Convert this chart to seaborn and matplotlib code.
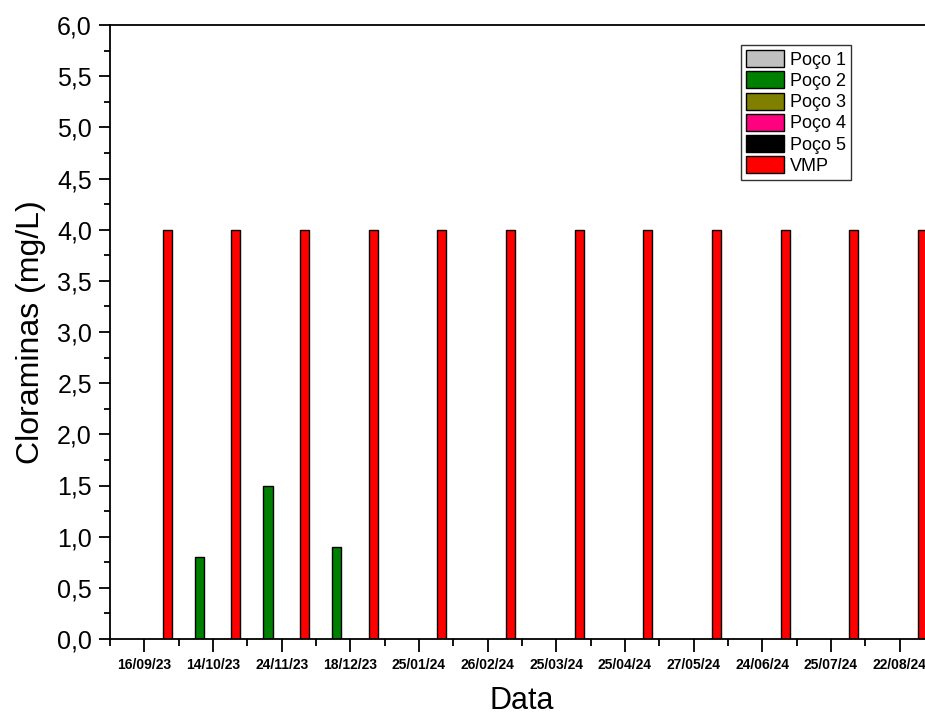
import numpy as np
import pandas as pd
import seaborn as sns
import matplotlib.pyplot as plt
from matplotlib.patches import Patch
from matplotlib.ticker import MultipleLocator, FuncFormatter, FixedLocator

# Sampling dates
datas = ["16/09/23", "14/10/23", "24/11/23", "18/12/23", "25/01/24", "26/02/24",
         "25/03/24", "25/04/24", "27/05/24", "24/06/24", "25/07/24", "22/08/24"]

# Chloramine results per well (mg/L); NaN = not detected / no result
poco1 = [np.nan] * 12
poco2 = [np.nan, 0.8, 1.5, 0.9] + [np.nan] * 8
poco3 = [np.nan] * 12
poco4 = [np.nan] * 12
poco5 = [np.nan] * 12
# Maximum permitted value
vmp = [4.0] * 12

series = ["Poço 1", "Poço 2", "Poço 3", "Poço 4", "Poço 5", "VMP"]
colors = ["#C0C0C0", "#008000", "#808000", "#FF0080", "#000000", "#FF0000"]

values = [poco1, poco2, poco3, poco4, poco5, vmp]
df = pd.DataFrame({
    "Data": np.tile(datas, len(series)),
    "Serie": np.repeat(series, len(datas)),
    "Valor": np.concatenate(values),
})

sns.set_style("ticks")
plt.rcParams["font.family"] = ["Liberation Sans", "DejaVu Sans"]
plt.rcParams.update({
    "text.color": "black", "axes.labelcolor": "black",
    "xtick.color": "black", "ytick.color": "black", "axes.edgecolor": "black",
})

fig = plt.figure(figsize=(9.25, 7.15), dpi=100)
ax = fig.add_axes([110 / 925, 76 / 715, 824 / 925, 614 / 715])

palette = dict(zip(series, colors))
sns.barplot(data=df, x="Data", y="Valor", hue="Serie", order=datas,
            hue_order=series, palette=palette, width=0.8, gap=0,
            edgecolor="black", linewidth=1.0, saturation=1,
            errorbar=None, legend=False, ax=ax)

ax.set_xlim(-0.5, len(datas) - 0.5)
ax.set_ylim(0, 6)

# y axis: comma decimal separator
ax.yaxis.set_major_locator(MultipleLocator(0.5))
ax.yaxis.set_minor_locator(MultipleLocator(0.25))
ax.yaxis.set_major_formatter(FuncFormatter(lambda v, p: f"{v:.1f}".replace(".", ",")))

ax.xaxis.set_minor_locator(FixedLocator(np.arange(-0.5, len(datas), 1.0)))

ax.tick_params(axis="y", which="major", direction="out", length=8, width=1.3,
               labelsize=18, pad=5)
ax.tick_params(axis="y", which="minor", direction="out", length=4.5, width=1.3)
ax.tick_params(axis="x", which="major", direction="out", length=9.5, width=1.3,
               labelsize=10, pad=4)
ax.tick_params(axis="x", which="minor", direction="out", length=5, width=1.3)
for lab in ax.get_xticklabels():
    lab.set_fontweight("bold")

for s in ax.spines.values():
    s.set_linewidth(1.3)
    s.set_color("black")
    s.set_visible(True)

ax.set_xlabel("Data", fontsize=22, labelpad=10)
ax.set_ylabel("Cloraminas (mg/L)", fontsize=23, labelpad=8)

handles = [Patch(facecolor=c, edgecolor="black", linewidth=1.0) for c in colors]
leg = ax.legend(handles, series, loc="upper left",
                bbox_to_anchor=(741 / 925, 1 - 45 / 715), bbox_transform=fig.transFigure,
                fontsize=13, frameon=True, fancybox=False, framealpha=1,
                edgecolor="#333333", handlelength=2.1, handleheight=1.08,
                labelspacing=0.14, handletextpad=0.35, borderpad=0.28,
                borderaxespad=0)
leg.get_frame().set_linewidth(1.0)

fig.savefig("out.png", dpi=100)
